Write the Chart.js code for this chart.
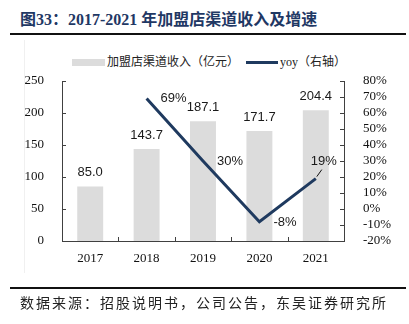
<!DOCTYPE html>
<html>
<head>
<meta charset="utf-8">
<script src="https://cdn.jsdelivr.net/npm/chart.js@4.4.1/dist/chart.umd.min.js"></script>
<style>
  html, body { margin: 0; padding: 0; background: #fff; }
  #wrap { position: relative; width: 409px; height: 324px; overflow: hidden; background: #fff; }
  #title {
    position: absolute; left: 20px; top: 10px; white-space: nowrap;
    font: bold 16px "Liberation Serif", "Noto Sans CJK SC", serif; color: #1f3864; line-height: 20px;
  }
  .rule { position: absolute; left: 10px; width: 396px; height: 2px; background: #111; }
  #frame { position: absolute; left: 24px; top: 40px; width: 1px; height: 233px; background: #f0f0f0; }
  #source {
    position: absolute; left: 20px; top: 293px; white-space: nowrap;
    font: 14px "Noto Sans CJK SC", sans-serif; letter-spacing: 2px; color: #222; line-height: 18px;
  }
  #legend { position: absolute; top: 53px; left: 72px; height: 16px; white-space: nowrap;
    font: 12px "Liberation Serif", "Noto Sans CJK SC", serif; color: #222; line-height: 16px; }
  #legend span { display: inline-block; vertical-align: middle; }
  .swatch-bar { width: 33px; height: 7px; background: #dcdcdc; margin-right: 2px; }
  .swatch-line { width: 32px; height: 3px; background: #1f3a5f; margin-left: 7px; margin-right: 2px; }
  canvas { position: absolute; left: 0; top: 0; }
</style>
</head>
<body>
<div id="wrap">
  <div id="title">图33：2017-2021 年加盟店渠道收入及增速</div>
  <div class="rule" style="top:33px"></div>
  <div id="frame"></div>
  <div id="legend">
    <span class="swatch-bar"></span><span>加盟店渠道收入（亿元）</span><span class="swatch-line"></span><span>yoy（右轴）</span>
  </div>
  <canvas id="c" width="409" height="324"></canvas>
  <div class="rule" style="top:287px"></div>
  <div id="source">数据来源：招股说明书，公司公告，东吴证券研究所</div>
</div>
<script>
// Franchise-store channel revenue (100m CNY) and year-on-year growth (%)
const years = ['2017', '2018', '2019', '2020', '2021'];
const revenue = [85.0, 143.7, 187.1, 171.7, 204.4];
const yoyGrowth = [null, 69, 30, -8, 19];

// Axis ranges
const revenueAxis = { min: 0, max: 250, step: 50 };
const growthAxis = { min: -20, max: 80, step: 10 };

const AXIS_COLOR = '#404040';
const BAR_COLOR = '#dcdcdc';
const LINE_COLOR = '#1f3a5f';
const SERIF = "'Liberation Serif', 'Times New Roman', serif";
const SANS = "'Liberation Sans', Arial, sans-serif";

// Inward tick marks plus value labels for bars and the growth line
const annotate = {
  id: 'annotate',
  afterDatasetsDraw(chart) {
    const ctx = chart.ctx;
    const area = chart.chartArea;
    const { x, y, y1 } = chart.scales;
    ctx.save();
    ctx.strokeStyle = AXIS_COLOR;
    ctx.lineWidth = 1;
    ctx.beginPath();
    y.ticks.forEach(t => {
      const py = Math.round(y.getPixelForValue(t.value)) + 0.5;
      ctx.moveTo(area.left, py); ctx.lineTo(area.left + 4, py);
    });
    y1.ticks.forEach(t => {
      const py = Math.round(y1.getPixelForValue(t.value)) + 0.5;
      ctx.moveTo(area.right - 4, py); ctx.lineTo(area.right, py);
    });
    for (let i = 0; i < years.length - 1; i++) {
      const px = Math.round((x.getPixelForTick(i) + x.getPixelForTick(i + 1)) / 2) + 0.5;
      ctx.moveTo(px, area.bottom); ctx.lineTo(px, area.bottom - 4);
    }
    ctx.stroke();

    ctx.fillStyle = '#1a1a1a';
    ctx.font = '13px ' + SANS;
    ctx.textBaseline = 'middle';
    ctx.textAlign = 'center';
    chart.getDatasetMeta(1).data.forEach((bar, i) => {
      ctx.fillText(revenue[i].toFixed(1), bar.x, bar.y - 14);
    });

    const pts = chart.getDatasetMeta(0).data;
    pts.forEach((pt, i) => {
      const v = yoyGrowth[i];
      if (v === null) return;
      if (i === years.length - 1) {
        ctx.textAlign = 'center';
        ctx.fillText(v + '%', pt.x + 8, pt.y - 17);
        ctx.beginPath();
        ctx.strokeStyle = '#111';
        ctx.moveTo(pt.x + 1, pt.y - 2);
        ctx.lineTo(pt.x + 6, pt.y - 9);
        ctx.stroke();
      } else {
        ctx.textAlign = 'left';
        ctx.fillText(v + '%', pt.x + 14, pt.y + (v < 0 ? 1 : 0));
      }
    });
    ctx.restore();
  }
};

new Chart(document.getElementById('c'), {
  data: {
    labels: years,
    datasets: [
      {
        type: 'line', label: 'yoy（右轴）', data: yoyGrowth, yAxisID: 'y1', order: 0,
        borderColor: LINE_COLOR, borderWidth: 3, pointRadius: 0, tension: 0, fill: false
      },
      {
        type: 'bar', label: '加盟店渠道收入（亿元）', data: revenue, yAxisID: 'y', order: 1,
        backgroundColor: BAR_COLOR, borderWidth: 0,
        categoryPercentage: 1.0, barPercentage: 0.46
      }
    ]
  },
  options: {
    responsive: false,
    animation: false,
    events: [],
    layout: { padding: { left: 10, right: 10, top: 81, bottom: 58 } },
    plugins: { legend: { display: false }, tooltip: { enabled: false } },
    scales: {
      x: {
        grid: { display: false },
        border: { display: true, color: AXIS_COLOR, width: 1 },
        ticks: { color: '#111', font: { family: SERIF, size: 13 }, padding: 2, maxRotation: 0 },
        afterFit(s) { s.height = 25; }
      },
      y: {
        position: 'left', min: revenueAxis.min, max: revenueAxis.max,
        grid: { display: false },
        border: { display: true, color: AXIS_COLOR, width: 1 },
        ticks: { stepSize: revenueAxis.step, autoSkip: false, color: '#111', font: { family: SERIF, size: 13 }, padding: 10 },
        afterFit(s) { s.width = 52; }
      },
      y1: {
        position: 'right', min: growthAxis.min, max: growthAxis.max,
        grid: { display: false },
        border: { display: true, color: AXIS_COLOR, width: 1 },
        ticks: {
          stepSize: growthAxis.step, autoSkip: false, color: '#111', font: { family: SERIF, size: 13 }, padding: 11,
          callback: v => v + '%'
        },
        afterFit(s) { s.width = 55; }
      }
    }
  },
  plugins: [annotate]
});
</script>
</body>
</html>
